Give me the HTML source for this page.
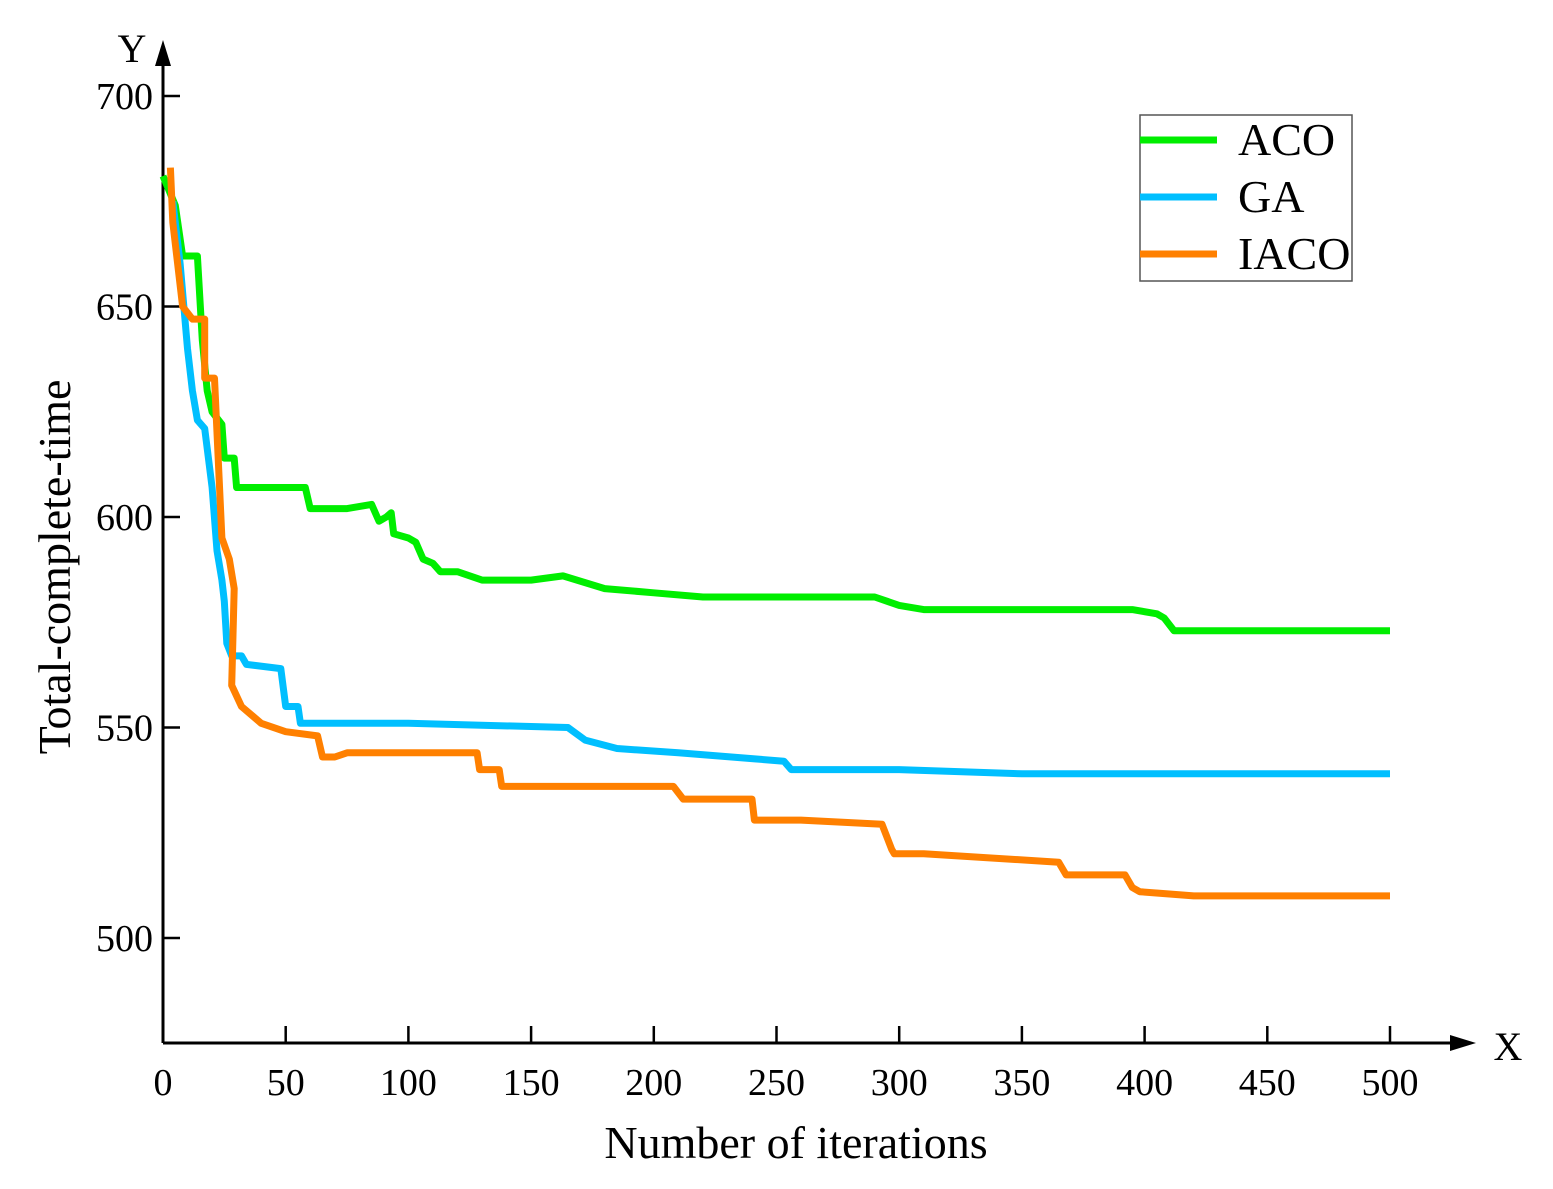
<!DOCTYPE html>
<html><head><meta charset="utf-8"><style>body{margin:0;background:#fff}svg{display:block}text{font-family:"Liberation Serif",serif;fill:#000}</style></head>
<body>
<svg id="chart" width="1553" height="1189" viewBox="0 0 1553 1189">
<g id="axes"></g>
<g id="series"></g>
<g id="legend">
<rect x="1140" y="115" width="212" height="166" fill="#fff" stroke="#555" stroke-width="1.5"/>
<line x1="1140" y1="140" x2="1217" y2="140" stroke="#00ee00" stroke-width="7"/>
<text x="1238" y="155" font-size="46">ACO</text>
<line x1="1140" y1="197" x2="1217" y2="197" stroke="#00bfff" stroke-width="7"/>
<text x="1238" y="212" font-size="46">GA</text>
<line x1="1140" y1="254" x2="1217" y2="254" stroke="#ff8000" stroke-width="7"/>
<text x="1238" y="269" font-size="46">IACO</text>
</g>
</svg>
<script>
const xTicks=[0,50,100,150,200,250,300,350,400,450,500];
const yTicks=[500,550,600,650,700];
const acoIter=[0,5,8,14,16,18,20,24,25,29,30,58,60,75,85,88,91,93,94,100,103,106,110,113,120,130,150,163,180,200,220,290,300,310,370,395,405,408,412,440,500];
const acoVal=[681,674,662,662,642,630,625,622,614,614,607,607,602,602,603,599,600,601,596,595,594,590,589,587,587,585,585,586,583,582,581,581,579,578,578,578,577,576,573,573,573];
const gaIter=[4,7,10,12,14,17,20,22,24,25,26,28,32,34,48,50,55,56,100,165,172,185,210,253,256,300,350,500];
const gaVal=[675,660,640,630,623,621,607,592,585,580,570,567,567,565,564,555,555,551,551,550,547,545,544,542,540,540,539,539];
const iacoIter=[3,4,6,8,12,17,17,21,22,24,27,29,28,32,40,50,63,65,70,75,128,129,137,138,165,208,212,240,241,260,293,297,298,310,365,368,392,395,398,420,440,500];
const iacoVal=[683,670,660,650,647,647,633,633,620,595,590,583,560,555,551,549,548,543,543,544,544,540,540,536,536,536,533,533,528,528,527,521,520,520,518,515,515,512,511,510,510,510];
const NS='http://www.w3.org/2000/svg';
const X=v=>163+v*2.454, Y=v=>938-(v-500)*4.21;
function mk(tag,attrs,parent,txt){const e=document.createElementNS(NS,tag);for(const k in attrs)e.setAttribute(k,attrs[k]);if(txt!=null)e.textContent=txt;parent.appendChild(e);return e;}
const ax=document.getElementById('axes');
let e=mk('line',{x1:163,y1:1043,x2:1455,y2:1043,stroke:'#000','stroke-width':3},ax);

e=mk('polygon',{points:'1450,1035 1476,1043 1450,1051',fill:'#000'},ax);

e=mk('line',{x1:163,y1:1043,x2:163,y2:62,stroke:'#000','stroke-width':3},ax);

e=mk('polygon',{points:'155,66 163,40 171,66',fill:'#000'},ax);

e=mk('text',{x:1508,y:1060,'font-size':40,'text-anchor':'middle'},ax,'X');

e=mk('text',{x:132,y:62,'font-size':40,'text-anchor':'middle'},ax,'Y');

xTicks.forEach(t=>{let l=mk('line',{x1:X(t),y1:1043,x2:X(t),y2:1026,stroke:'#000','stroke-width':2.5},ax);

let s=mk('text',{x:X(t),y:1095,'font-size':38,'text-anchor':'middle'},ax,String(t));
});
yTicks.forEach(t=>{let l=mk('line',{x1:163,y1:Y(t),x2:180,y2:Y(t),stroke:'#000','stroke-width':2.5},ax);

let s=mk('text',{x:153,y:Y(t)+13,'font-size':38,'text-anchor':'end'},ax,String(t));
});
e=mk('text',{x:796,y:1158,'font-size':46,'text-anchor':'middle'},ax,'Number of iterations');

e=mk('text',{x:0,y:0,'font-size':46,'text-anchor':'middle',transform:'translate(70,567) rotate(-90)'},ax,'Total-complete-time');

const sg=document.getElementById('series');
function draw(it,val,color,name){const d=it.map((v,i)=>(i?'L':'M')+X(v).toFixed(1)+','+Y(val[i]).toFixed(1)).join('');
const p=mk('path',{d:d,fill:'none',stroke:color,'stroke-width':7,'stroke-linejoin':'round'},sg);
}
draw(acoIter,acoVal,'#00ee00','aco-line');
draw(gaIter,gaVal,'#00bfff','ga-line');
draw(iacoIter,iacoVal,'#ff8000','iaco-line');
</script>
</body></html>
